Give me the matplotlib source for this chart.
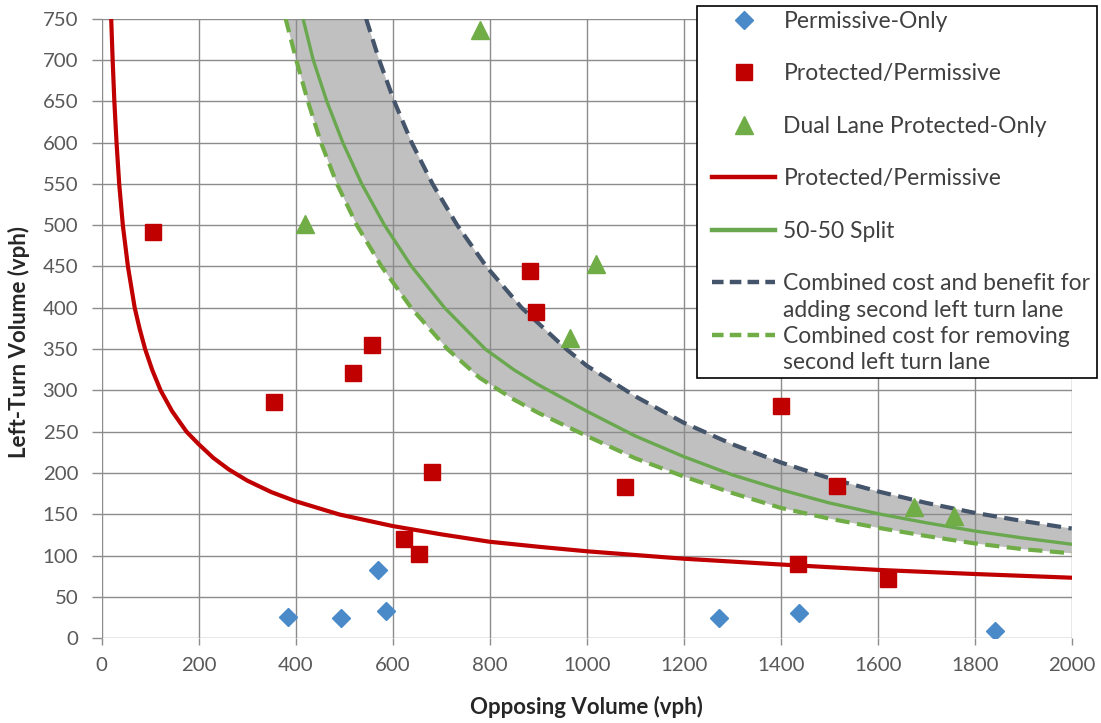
import matplotlib.pyplot as plt
from matplotlib.lines import Line2D
from matplotlib.patches import Rectangle

# observed intersections
perm_x = [384, 494, 569, 586, 1272, 1437, 1842]
perm_y = [26, 25, 83, 33, 25, 31, 9]

prot_x = [106, 356, 518, 557, 624, 654, 682, 884, 896, 1079, 1400, 1436, 1516, 1622]
prot_y = [492, 286, 321, 355, 120, 102, 202, 445, 395, 183, 281, 90, 185, 72]

dual_x = [419, 780, 965, 1019, 1675, 1757]
dual_y = [501, 736, 363, 453, 159, 148]

# threshold curves
red_x = [19.5, 22.5, 26, 30.5, 36, 43.5, 54, 68, 78, 89.5, 104, 121.5, 145, 175, 200, 230,
         262, 300, 350, 400, 490, 600, 700, 800, 900, 1000, 1200, 1400, 1600, 1800, 2000]
red_y = [750, 700, 650, 600, 550, 500, 450, 400, 375, 350, 325, 300, 275, 250, 235, 218.5,
         204.5, 191, 177, 166, 150, 136, 126, 117, 111, 105.5, 96.5, 89.5, 83, 78, 73.5]

split_x = [415, 436, 464, 497, 536, 583, 639, 707, 791, 850, 900, 1000, 1100, 1200, 1300,
           1400, 1500, 1600, 1700, 1800, 1900, 2000]
split_y = [750, 700, 650, 600, 550, 500, 450, 400, 350, 325, 307, 275, 245, 220, 198,
           180, 164, 151, 140, 130, 121.5, 114]

upper_x = [545, 572, 603, 639, 682, 733, 793, 866, 958, 1000, 1100, 1200, 1300, 1400,
           1500, 1600, 1700, 1800, 1900, 2000]
upper_y = [750, 700, 650, 600, 550, 500, 450, 400, 350, 330, 293, 261, 235, 213,
           194, 178, 164, 152, 142, 133]

lower_x = [379, 401, 425, 452, 485, 526, 577, 638, 713, 780, 850, 900, 1000, 1100, 1200,
           1300, 1400, 1500, 1600, 1700, 1800, 1900, 2000]
lower_y = [750, 700, 650, 600, 550, 500, 450, 400, 350, 315, 289, 273, 245, 218, 196,
           176, 158, 145, 134, 124, 115, 108, 103]

xticks = list(range(0, 2001, 200))
yticks = list(range(0, 751, 50))

RED = '#c00000'
GREEN = '#70ad47'
GREEN_DARK = '#6aa84f'
NAVY = '#44546a'
BLUE = '#4a8ac9'

plt.rcParams['font.family'] = ['Lato', 'DejaVu Sans']

fig = plt.figure(figsize=(11.01, 7.23), dpi=100)
ax = fig.add_axes([0.0924, 0.1169, 0.8810, 0.8575])

# shaded band between the two dashed curves
ax.fill(upper_x + lower_x[::-1], upper_y + lower_y[::-1], color='#c0c0c0', lw=0, zorder=1)

dash = (3.4, 1.8)
ax.plot(red_x, red_y, color=RED, lw=3, zorder=3, solid_joinstyle='round')
ax.plot(split_x, split_y, color=GREEN_DARK, lw=2.4, zorder=3, solid_joinstyle='round')
ax.plot(upper_x, upper_y, color=NAVY, lw=3, dashes=dash, zorder=3)
ax.plot(lower_x, lower_y, color=GREEN, lw=3, dashes=dash, zorder=3)

ax.plot(perm_x, perm_y, ls='none', marker='D', ms=9.5, color=BLUE, zorder=4)
ax.plot(prot_x, prot_y, ls='none', marker='s', ms=12, color=RED, zorder=4)
ax.plot(dual_x, dual_y, ls='none', marker='^', ms=13, color=GREEN, zorder=4)

ax.set_xlim(0, 2000)
ax.set_ylim(0, 750)
ax.set_xticks(xticks)
ax.set_yticks(yticks)
ax.grid(True, color='#8c8c8c', lw=1)
for s in ax.spines.values():
    s.set_visible(False)
ax.tick_params(axis='x', length=5, width=1, color='#8c8c8c', pad=8,
               labelsize=14.7, labelcolor='#595959')
ax.tick_params(axis='y', length=7, width=1, color='#8c8c8c', pad=10,
               labelsize=14.7, labelcolor='#595959')

ax.set_xlabel('Opposing Volume (vph)', fontsize=16, fontweight='bold', color='#262626')
ax.set_ylabel('Left-Turn Volume (vph)', fontsize=16, fontweight='bold', color='#262626')
ax.xaxis.label.set_va('center')
ax.yaxis.label.set_va('center')
ax.xaxis.set_label_coords(0.5, -0.11)
ax.yaxis.set_label_coords(-0.085, 0.478)

# legend: blank rows keep the spacing of the original, two-line labels split in rows
blank = Line2D([], [], ls='none')
handles = [
    Line2D([], [], ls='none', marker='D', ms=9.5, color=BLUE), blank,
    Line2D([], [], ls='none', marker='s', ms=12, color=RED), blank,
    Line2D([], [], ls='none', marker='^', ms=13, color=GREEN), blank,
    Line2D([], [], color=RED, lw=3.2), blank,
    Line2D([], [], color=GREEN_DARK, lw=3.2), blank,
    Line2D([], [], color=NAVY, lw=3.2, dashes=(2.6, 1.4)), blank,
    Line2D([], [], color=GREEN, lw=3.2, dashes=(2.6, 1.4)), blank,
]
labels = [
    'Permissive-Only', ' ',
    'Protected/Permissive', ' ',
    'Dual Lane Protected-Only', ' ',
    'Protected/Permissive', ' ',
    '50-50 Split', ' ',
    'Combined cost and benefit for', 'adding second left turn lane',
    'Combined cost for removing', 'second left turn lane',
]
leg = fig.legend(handles, labels, loc='upper left', bbox_to_anchor=(0.6427, 0.9917),
                 borderaxespad=0, fontsize=16.5, labelspacing=0.23, handlelength=2.75,
                 handletextpad=0.36, borderpad=0.2, frameon=False, numpoints=1)
for t in leg.get_texts():
    t.set_color('#404040')

# box around the legend, wider on the left as in the original
fig.canvas.draw()
bb = leg.get_window_extent()
inv = fig.transFigure.inverted()
(x0, y0), (x1, y1) = inv.transform([(bb.x0 - 11, bb.y0), (bb.x1 + 2, bb.y1)])
fig.add_artist(Rectangle((x0, y0), x1 - x0, y1 - y0, transform=fig.transFigure,
                         facecolor='white', edgecolor='black', lw=1.2, zorder=4.9))

fig.savefig('out.png', dpi=100)
